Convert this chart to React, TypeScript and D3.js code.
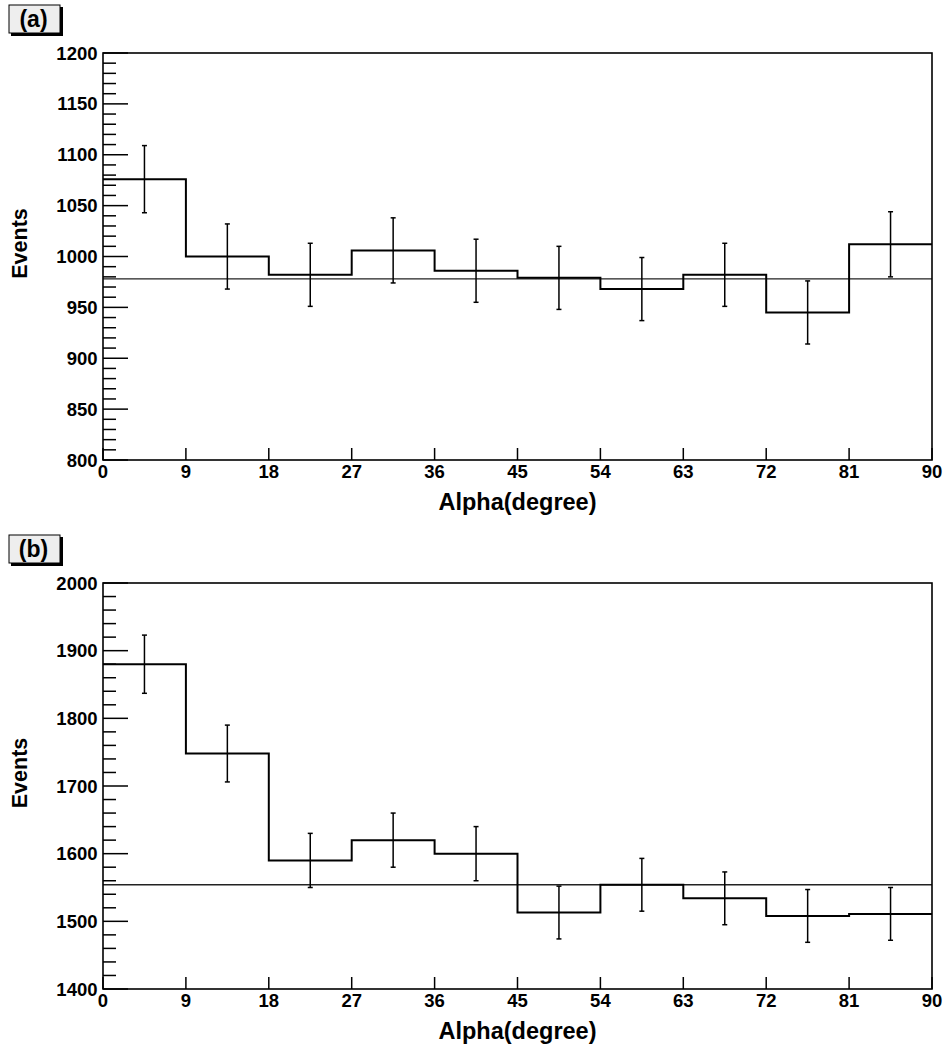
import React from "react";
import * as d3 from "d3";

const binEdges = [0, 9, 18, 27, 36, 45, 54, 63, 72, 81, 90];
const xTickLabels = ["0", "9", "18", "27", "36", "45", "54", "63", "72", "81", "90"];

const countsA = [1076, 1000, 982, 1006, 986, 979, 968, 982, 945, 1012];
const errorsA = [33, 32, 31, 32, 31, 31, 31, 31, 31, 32];
const fitA = 978;

const countsB = [1880, 1748, 1590, 1620, 1600, 1513, 1554, 1534, 1508, 1511];
const errorsB = [43, 42, 40, 40, 40, 39, 39, 39, 39, 39];
const fitB = 1554;

const FONT = "'Liberation Sans', Arial, Helvetica, sans-serif";

type PanelProps = {
  top: number;
  bottom: number;
  yDomain: [number, number];
  majorCount: number;
  minorCount: number;
  counts: number[];
  errors: number[];
  fit: number;
  tag: string;
};

function Panel({ top, bottom, yDomain, majorCount, minorCount, counts, errors, fit, tag }: PanelProps) {
  const left = 103;
  const right = 932;
  const x = d3.scaleLinear().domain([binEdges[0], binEdges[binEdges.length - 1]]).range([left, right]);
  const y = d3.scaleLinear().domain(yDomain).range([bottom, top]);
  const major = y.ticks(majorCount);
  const minor = y.ticks(minorCount).filter((v) => !major.includes(v));

  const stepPts: [number, number][] = [];
  counts.forEach((c, i) => {
    stepPts.push([binEdges[i], c]);
    stepPts.push([binEdges[i + 1], c]);
  });
  const line = d3.line<[number, number]>().x((d) => x(d[0])).y((d) => y(d[1]));

  const boxTop = top - 48;
  return (
    <g>
      {/* label box */}
      <rect x={11} y={boxTop + 2} width={52} height={29} fill="#000" />
      <rect x={9} y={boxTop} width={51} height={28} fill="#eeeeee" stroke="#000" strokeWidth={1} />
      <text x={33.5} y={boxTop + 22} textAnchor="middle" fontFamily={FONT} fontWeight="bold" fontSize={23}>
        {tag}
      </text>

      {/* fit line */}
      <line x1={left} x2={right} y1={y(fit)} y2={y(fit)} stroke="#222" strokeWidth={1.4} />

      {/* histogram steps */}
      <path d={line(stepPts) || ""} fill="none" stroke="#000" strokeWidth={2} />

      {/* error bars */}
      {counts.map((c, i) => {
        const cx = x((binEdges[i] + binEdges[i + 1]) / 2);
        const y1 = y(c + errors[i]);
        const y2 = y(c - errors[i]);
        return (
          <g key={i} stroke="#000" strokeWidth={1.5}>
            <line x1={cx} x2={cx} y1={y1} y2={y2} />
            <line x1={cx - 2.5} x2={cx + 2.5} y1={y1} y2={y1} />
            <line x1={cx - 2.5} x2={cx + 2.5} y1={y2} y2={y2} />
          </g>
        );
      })}

      {/* frame */}
      <rect x={left} y={top} width={right - left} height={bottom - top} fill="none" stroke="#000" strokeWidth={1.6} />

      {/* y ticks */}
      {major.map((v) => (
        <g key={"M" + v}>
          <line x1={left} x2={left + 25} y1={y(v)} y2={y(v)} stroke="#000" strokeWidth={1.5} />
          <text x={97.5} y={y(v) + 6.5} textAnchor="end" fontFamily={FONT} fontWeight="bold" fontSize={18.5}>
            {v}
          </text>
        </g>
      ))}
      {minor.map((v) => (
        <line key={"m" + v} x1={left} x2={left + 13} y1={y(v)} y2={y(v)} stroke="#000" strokeWidth={1.5} />
      ))}

      {/* x ticks */}
      {binEdges.map((v, i) => (
        <g key={"x" + v}>
          <line x1={x(v)} x2={x(v)} y1={bottom} y2={bottom - 12} stroke="#000" strokeWidth={1.5} />
          <text x={x(v)} y={bottom + 18} textAnchor="middle" fontFamily={FONT} fontWeight="bold" fontSize={18.5}>
            {xTickLabels[i]}
          </text>
        </g>
      ))}

      {/* axis titles */}
      <text x={517.5} y={bottom + 50} textAnchor="middle" fontFamily={FONT} fontWeight="bold" fontSize={23.5}>
        Alpha(degree)
      </text>
      <text
        transform={`translate(26.5, ${(top + bottom) / 2 - 13}) rotate(-90)`}
        textAnchor="middle"
        fontFamily={FONT}
        fontWeight="bold"
        fontSize={21.5}
      >
        Events
      </text>
    </g>
  );
}

export default function App() {
  return (
    <svg width={944} height={1049} style={{ position: "absolute", left: 0, top: 0, background: "#fff" }}>
      <rect x={0} y={0} width={944} height={1049} fill="#fff" />
      <Panel top={53} bottom={460} yDomain={[800, 1200]} majorCount={8} minorCount={40}
        counts={countsA} errors={errorsA} fit={fitA} tag="(a)" />
      <Panel top={583} bottom={989} yDomain={[1400, 2000]} majorCount={6} minorCount={30}
        counts={countsB} errors={errorsB} fit={fitB} tag="(b)" />
    </svg>
  );
}
